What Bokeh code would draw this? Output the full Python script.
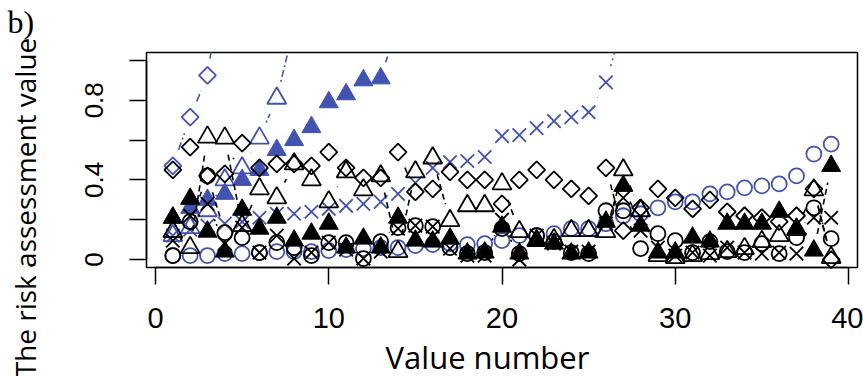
import math
from bokeh.plotting import figure
from bokeh.models import Range1d, FixedTicker
from bokeh.core.properties import value
from bokeh.embed import file_html
from bokeh.resources import INLINE

NaN = float("nan")

# ---------------- data ----------------
value_number = list(range(1, 40))

blue_diamond = [0.47, 0.715, 0.925, 1.5] + [NaN] * 35
blue_tri_open = [0.12, 0.16, 0.245, 0.40, 0.46, 0.61, 0.81, 1.17] + [NaN] * 31
blue_tri_fill = [0.21, 0.26, 0.30, 0.33, 0.40, 0.45, 0.55, 0.60, 0.665, 0.79,
                 0.83, 0.90, 0.91, 1.19] + [NaN] * 25
blue_cross = [0.12, 0.15, 0.17, 0.18, 0.19, 0.21, 0.23, 0.23, 0.24, 0.255,
              0.27, 0.28, 0.29, 0.33, 0.385, 0.46, 0.49, 0.495, 0.515, 0.62,
              0.625, 0.66, 0.695, 0.715, 0.74, 0.89, 1.19] + [NaN] * 12
blue_circle = [0.02, 0.02, 0.02, 0.03, 0.03, 0.035, 0.04, 0.04, 0.04, 0.045,
               0.05, 0.055, 0.06, 0.06, 0.07, 0.075, 0.08, 0.075, 0.08, 0.095,
               0.12, 0.12, 0.13, 0.155, 0.155, 0.18, 0.22, 0.23, 0.26, 0.29,
               0.29, 0.33, 0.34, 0.36, 0.37, 0.38, 0.42, 0.53, 0.58]

black_diamond = [0.45, 0.565, 0.42, 0.43, 0.585, 0.46, 0.48, 0.48, 0.47, 0.54,
                 0.46, 0.41, 0.41, 0.54, 0.34, 0.355, 0.44, 0.40, 0.40, 0.28,
                 0.40, 0.45, 0.40, 0.355, 0.32, 0.46, 0.145, 0.26, 0.355, 0.31,
                 0.255, 0.30, 0.24, 0.22, 0.21, 0.19, 0.22, 0.355, 0.0]
black_tri_open = [0.14, 0.06, 0.615, 0.61, 0.17, 0.355, 0.31, 0.48, 0.40, 0.29,
                  0.44, 0.35, 0.42, 0.04, 0.44, 0.51, 0.195, 0.27, 0.27, 0.38,
                  0.14, 0.095, 0.10, 0.145, 0.145, 0.14, 0.45, 0.245, 0.02, 0.01,
                  0.02, 0.03, 0.04, 0.055, 0.09, 0.12, 0.15, 0.35, 0.01]
black_tri_fill = [0.21, 0.305, 0.14, 0.04, 0.25, 0.155, 0.21, 0.095, 0.13, 0.18,
                  0.06, 0.105, 0.06, 0.21, 0.095, 0.09, 0.105, 0.03, 0.035, 0.165,
                  0.03, 0.095, 0.08, 0.03, 0.035, 0.19, 0.37, 0.17, 0.035, 0.035,
                  0.11, 0.09, 0.18, 0.18, 0.18, 0.24, 0.155, 0.045, 0.47]
black_cross = [0.095, 0.22, 0.28, 0.08, 0.16, 0.035, 0.12, 0.005, 0.035, 0.085,
               0.05, 0.005, 0.04, 0.155, 0.17, 0.165, 0.055, 0.02, 0.02, 0.20,
               0.0, 0.12, 0.08, 0.04, 0.04, 0.18, 0.31, 0.145, 0.06, 0.02,
               0.035, 0.02, 0.06, 0.035, 0.03, 0.035, 0.03, 0.21, 0.21]
black_circle = [0.02, 0.19, 0.42, 0.135, 0.11, 0.035, 0.085, 0.06, 0.02, 0.085,
                0.085, 0.005, 0.09, 0.16, 0.17, 0.165, 0.06, 0.03, 0.035, 0.155,
                0.03, 0.12, 0.09, 0.035, 0.03, 0.245, 0.245, 0.055, 0.13, 0.095,
                0.035, 0.09, 0.04, 0.035, 0.08, 0.03, 0.11, 0.26, 0.105]

x_ticks = [0, 10, 20, 30, 40]
y_ticks_labelled = [0.0, 0.4, 0.8]
y_ticks_unlabelled = [0.2, 0.6, 1.0]

# ---------------- layout ----------------
W, H = 863, 376
BL, BR, BT, BB = 146, 857, 52, 267      # R plot box in page pixels
X0, X1 = -0.52, 40.52                   # R usr coordinates of the box
Y0, Y1 = -0.04, 1.04
SX = (BR - BL) / (X1 - X0)
SY = (BB - BT) / (Y1 - Y0)
XS, XE = X0 - BL / SX, X1 + (W - BR) / SX   # whole canvas as frame
YS, YE = Y0 - (H - BB) / SY, Y1 + BT / SY

def px2x(px):
    return XS + px / SX

def py2y(py):
    return YE - py / SY

BLUE = "#4152B0"
BLACK = "#000000"

p = figure(width=W, height=H, x_range=Range1d(XS, XE), y_range=Range1d(YS, YE),
           output_backend="svg", toolbar_location=None, min_border=0)
p.background_fill_color = "white"
p.border_fill_color = "white"
p.outline_line_color = None
p.grid.visible = False

# plot box
p.quad(left=[X0], right=[X1], bottom=[Y0], top=[Y1], fill_color=None,
       line_color="black", line_width=1.5)

# R type="b": line segments with gaps around points, clipped to the box
GAP = 17.0

def clip_to_box(xa, ya, xb, yb):
    if ya > Y1 and yb > Y1:
        return None
    if yb > Y1:
        xb = xa + (Y1 - ya) / (yb - ya) * (xb - xa); yb = Y1
    if ya > Y1:
        xa = xb + (Y1 - yb) / (ya - yb) * (xa - xb); ya = Y1
    return xa, ya, xb, yb

def gapped_segments(xs, ys, color, dash):
    a0, b0, a1, b1 = [], [], [], []
    for i in range(len(xs) - 1):
        xa, ya, xb, yb = xs[i], ys[i], xs[i + 1], ys[i + 1]
        if any(math.isnan(v) for v in (xa, ya, xb, yb)):
            continue
        L = math.hypot((xb - xa) * SX, (yb - ya) * SY)
        if L <= 2 * GAP:
            continue
        t = GAP / L
        seg = clip_to_box(xa + t * (xb - xa), ya + t * (yb - ya),
                          xb - t * (xb - xa), yb - t * (yb - ya))
        if seg is None:
            continue
        a0.append(seg[0]); b0.append(seg[1]); a1.append(seg[2]); b1.append(seg[3])
    if a0:
        p.segment(x0=a0, y0=b0, x1=a1, y1=b1, line_color=color,
                  line_width=1.6, line_dash=dash)

series = [
    (blue_diamond, BLUE, "diamond", "8 3 2 3"),
    (blue_tri_open, BLUE, "tri_open", "2 3 7 3"),
    (blue_tri_fill, BLUE, "tri_fill", "6 4"),
    (blue_cross, BLUE, "cross", "2 4"),
    (blue_circle, BLUE, "circle", "2 4"),
    (black_diamond, BLACK, "diamond", "6 4"),
    (black_tri_open, BLACK, "tri_open", "6 4"),
    (black_tri_fill, BLACK, "tri_fill", "6 4"),
    (black_cross, BLACK, "cross", "2 3"),
    (black_circle, BLACK, "circle", "6 4"),
]

for ys, color, kind, dash in series:
    gapped_segments(value_number, ys, color, dash)
    pts = [(x, y) for x, y in zip(value_number, ys)
           if not math.isnan(y) and Y0 <= y <= Y1]
    xs_ = [a for a, _ in pts]
    ys_ = [b for _, b in pts]
    if kind == "diamond":
        p.scatter(xs_, ys_, marker="square", angle=math.pi / 4, size=12,
                  fill_color=None, line_color=color, line_width=1.8)
    elif kind == "tri_open":
        p.scatter(xs_, ys_, marker="triangle", size=19,
                  fill_color=None, line_color=color, line_width=1.8)
    elif kind == "tri_fill":
        p.scatter(xs_, ys_, marker="triangle", size=19,
                  fill_color=color, line_color=color, line_width=1.0)
    elif kind == "cross":
        p.scatter(xs_, ys_, marker="x", size=19,
                  line_color=color, line_width=1.8)
    else:
        p.scatter(xs_, ys_, marker="circle", size=15,
                  fill_color=None, line_color=color, line_width=1.8)

# axes (R style), fixed at the box edges
TICK_FONT = "Liberation Sans"
xa = p.xaxis[0]
xa.fixed_location = Y0
xa.ticker = FixedTicker(ticks=x_ticks)
xa.bounds = (x_ticks[0], x_ticks[-1])
ya = p.yaxis[0]
ya.fixed_location = X0
ya.ticker = FixedTicker(ticks=y_ticks_labelled, minor_ticks=y_ticks_unlabelled)
ya.bounds = (0, 1)
ya.major_label_orientation = "vertical"
for ax in (xa, ya):
    ax.axis_line_color = "black"
    ax.axis_line_width = 1.5
    ax.major_tick_line_color = "black"
    ax.major_tick_line_width = 1.5
    ax.major_tick_in = 0
    ax.major_tick_out = 17
    ax.minor_tick_in = 0
    ax.minor_tick_out = 17
    ax.minor_tick_line_color = "black"
    ax.minor_tick_line_width = 1.5
    ax.major_label_text_font = TICK_FONT
    ax.major_label_text_color = "black"
xa.minor_tick_out = 0
xa.major_label_text_font_size = "29px"
xa.major_label_standoff = 23
ya.major_label_standoff = 26
ya.major_label_text_font_size = "26px"

# titles
p.text(x=[px2x(487)], y=[py2y(356)], text=["Value number"],
       text_align="center", text_baseline="middle",
       text_font=value("Open Sans"), text_font_size="31px", text_color="black")
p.text(x=[px2x(24)], y=[py2y(207)], text=["The risk assessment value"],
       angle=math.pi / 2, text_align="center", text_baseline="middle",
       text_font=value("Open Sans"), text_font_size="28px", text_color="black")
p.text(x=[px2x(7)], y=[py2y(3)], text=["b)"], text_align="left",
       text_baseline="top", text_font=value("Liberation Serif"),
       text_font_size="32px", text_color="black")

open("out.html", "w").write(file_html(p, INLINE))
